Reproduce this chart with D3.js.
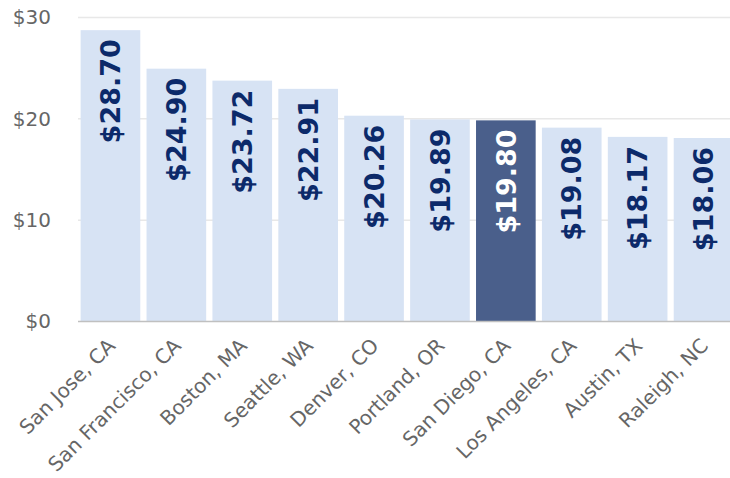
<!DOCTYPE html>
<html>
<head>
<meta charset="utf-8">
<script src="https://cdn.jsdelivr.net/npm/d3@7"></script>
<style>
  body { margin: 0; background: #fff; }
  svg { display: block; }
</style>
</head>
<body>
<div id="chart"></div>
<script>
var cities = ["San Jose, CA", "San Francisco, CA", "Boston, MA", "Seattle, WA", "Denver, CO",
              "Portland, OR", "San Diego, CA", "Los Angeles, CA", "Austin, TX", "Raleigh, NC"];
var wages = [28.70, 24.90, 23.72, 22.91, 20.26, 19.89, 19.80, 19.08, 18.17, 18.06];
var highlight = ["San Diego, CA"];
var yTicks = [0, 10, 20, 30];

var svgWidth = 730, svgHeight = 478;
var margin = {top: 17, right: 0, bottom: 157, left: 78};

var svg = d3.select("#chart").append("svg")
    .attr("width", svgWidth)
    .attr("height", svgHeight);

var x = d3.scaleBand()
    .domain(cities)
    .range([margin.left, 736])
    .paddingInner(0.095)
    .paddingOuter(0.04);

var y = d3.scaleLinear()
    .domain([0, 30])
    .range([svgHeight - margin.bottom, margin.top]);

// gridlines
svg.append("g")
    .selectAll("line")
    .data(yTicks.filter(function(d) { return d > 0; }))
    .enter().append("line")
    .attr("x1", margin.left)
    .attr("x2", svgWidth)
    .attr("y1", function(d) { return y(d) + 0.5; })
    .attr("y2", function(d) { return y(d) + 0.5; })
    .style("stroke", "#e8e8e8")
    .style("stroke-width", 1.5);

// y tick labels
svg.append("g")
    .selectAll("text")
    .data(yTicks)
    .enter().append("text")
    .attr("x", 51)
    .attr("y", function(d) { return y(d); })
    .attr("dy", "0.36em")
    .style("text-anchor", "end")
    .style("font-family", "'DejaVu Sans', sans-serif")
    .style("font-size", "20px")
    .style("fill", "#666666")
    .text(function(d) { return "$" + d; });

// bars
svg.append("g")
    .selectAll("rect")
    .data(wages)
    .enter().append("rect")
    .attr("x", function(d, i) { return x(cities[i]); })
    .attr("width", x.bandwidth())
    .attr("y", function(d) { return y(d); })
    .attr("height", function(d) { return y(0) - y(d); })
    .style("fill", function(d, i) {
        return highlight.indexOf(cities[i]) >= 0 ? "#4a5f8b" : "#d7e3f4";
    });

// baseline
svg.append("line")
    .attr("x1", margin.left)
    .attr("x2", svgWidth)
    .attr("y1", y(0) + 0.5)
    .attr("y2", y(0) + 0.5)
    .style("stroke", "#c0c0c0")
    .style("stroke-width", 1.5);

// value labels
svg.append("g")
    .selectAll("text")
    .data(wages)
    .enter().append("text")
    .attr("transform", function(d, i) {
        var cx = x(cities[i]) + x.bandwidth() / 2;
        return "translate(" + cx + "," + (y(d) + 9) + ") rotate(-90)";
    })
    .attr("dy", "0.36em")
    .style("text-anchor", "end")
    .style("font-family", "'DejaVu Sans', sans-serif")
    .style("font-weight", "bold")
    .style("font-size", "27px")
    .style("fill", function(d, i) {
        return highlight.indexOf(cities[i]) >= 0 ? "#ffffff" : "#0c2a6a";
    })
    .text(function(d) { return "$" + d.toFixed(2); });

// category labels
svg.append("g")
    .selectAll("text")
    .data(cities)
    .enter().append("text")
    .attr("transform", function(d) {
        var cx = x(d) + x.bandwidth() / 2 + 1;
        return "translate(" + cx + "," + (y(0) + 21) + ") rotate(-45)";
    })
    .attr("dy", "0.35em")
    .style("text-anchor", "end")
    .style("font-family", "'DejaVu Sans', sans-serif")
    .style("font-size", "20px")
    .style("fill", "#666666")
    .text(function(d) { return d; });
</script>
</body>
</html>
